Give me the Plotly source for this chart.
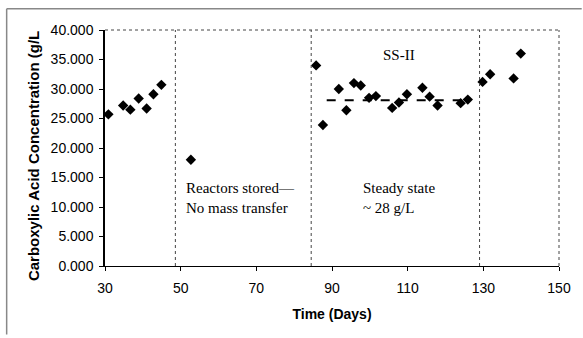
import plotly.graph_objects as go

# Data
days = [30.9, 34.8, 36.7, 38.9, 41.0, 42.8, 44.9, 52.7,
        85.8, 87.6, 91.8, 93.8, 95.8, 97.6, 99.8, 101.6, 105.9, 107.7, 109.8,
        113.9, 115.8, 117.9, 124.0, 125.9, 129.8, 131.8, 138.0, 139.9]
conc = [25.7, 27.2, 26.5, 28.4, 26.7, 29.1, 30.7, 18.0,
        34.0, 23.9, 30.0, 26.4, 31.0, 30.6, 28.5, 28.8, 26.8, 27.7, 29.1,
        30.2, 28.7, 27.2, 27.6, 28.2, 31.2, 32.5, 31.8, 36.0]
ss_days = [88.6, 125.8]
ss_conc = [28.1, 28.1]
phase_boundaries = [48.6, 84.5, 129.0]
x_ticks = [30, 50, 70, 90, 110, 130, 150]
y_ticks = [0, 5, 10, 15, 20, 25, 30, 35, 40]

fig = go.Figure()
fig.add_trace(go.Scatter(x=ss_days, y=ss_conc, mode="lines",
                         line=dict(color="black", width=2, dash="dash"),
                         showlegend=False, hoverinfo="skip"))
fig.add_trace(go.Scatter(x=days, y=conc, mode="markers",
                         marker=dict(symbol="diamond", size=8, color="black"),
                         showlegend=False))

shapes = []
for b in phase_boundaries:
    shapes.append(dict(type="line", xref="x", yref="y", x0=b, x1=b, y0=0, y1=40,
                       line=dict(color="#444", width=1, dash="dot")))
# dotted top and right plot borders
shapes.append(dict(type="line", xref="paper", yref="paper", x0=0, x1=1, y0=1, y1=1,
                   line=dict(color="#444", width=1, dash="dot")))
shapes.append(dict(type="line", xref="paper", yref="paper", x0=1, x1=1, y0=0, y1=1,
                   line=dict(color="#444", width=1, dash="dot")))
# outer scanned frame
shapes.append(dict(type="line", xref="paper", yref="paper", x0=-0.2166, x1=1.05,
                   y0=1.09, y1=1.09, line=dict(color="#888", width=1.5)))
shapes.append(dict(type="line", xref="paper", yref="paper", x0=-0.2166, x1=-0.2166,
                   y0=1.09, y1=-0.29, line=dict(color="#888", width=1.5)))

serif = dict(family="Liberation Serif, Times New Roman, serif", size=15, color="black")
annotations = [
    dict(x=107.7, y=35.7, xref="x", yref="y", text="SS-II", showarrow=False,
         font=serif, xanchor="center", yanchor="middle"),
    dict(x=51.0, y=11.6, xref="x", yref="y", text="Reactors stored—<br>No mass transfer",
         showarrow=False, font=serif, xanchor="left", yanchor="middle", align="left"),
    dict(x=97.7, y=11.6, xref="x", yref="y", text="Steady state<br>~ 28 g/L",
         showarrow=False, font=serif, xanchor="left", yanchor="middle", align="left"),
    dict(x=-0.159, y=0.465, xref="paper", yref="paper",
         text="<b>Carboxylic Acid Concentration (g/L</b>", showarrow=False, textangle=-90,
         font=dict(family="Liberation Sans, Arial, sans-serif", size=15, color="black"),
         xanchor="center", yanchor="middle"),
]

fig.update_layout(
    width=583, height=338,
    margin=dict(l=105, r=21, t=30, b=72),
    paper_bgcolor="white", plot_bgcolor="white",
    font=dict(family="Liberation Sans, Arial, sans-serif", size=14, color="black"),
    shapes=shapes, annotations=annotations,
    xaxis=dict(range=[30, 150], tickvals=x_ticks, ticks="outside", ticklen=4,
               tickcolor="black", showgrid=False, zeroline=False, showline=True,
               linecolor="black", linewidth=1, ticklabelstandoff=5,
               title=dict(text="<b>Time (Days)</b>", font=dict(size=14), standoff=14)),
    yaxis=dict(range=[0, 40], tickvals=y_ticks, tickformat=".3f", ticks="outside",
               ticklen=4, tickcolor="black", showgrid=False, zeroline=False,
               showline=True, linecolor="black", linewidth=1.5, ticklabelstandoff=3),
)

fig.write_html("out.html", config={"displayModeBar": False},
               post_script="document.body.style.margin='0';document.body.style.overflow='hidden';")
